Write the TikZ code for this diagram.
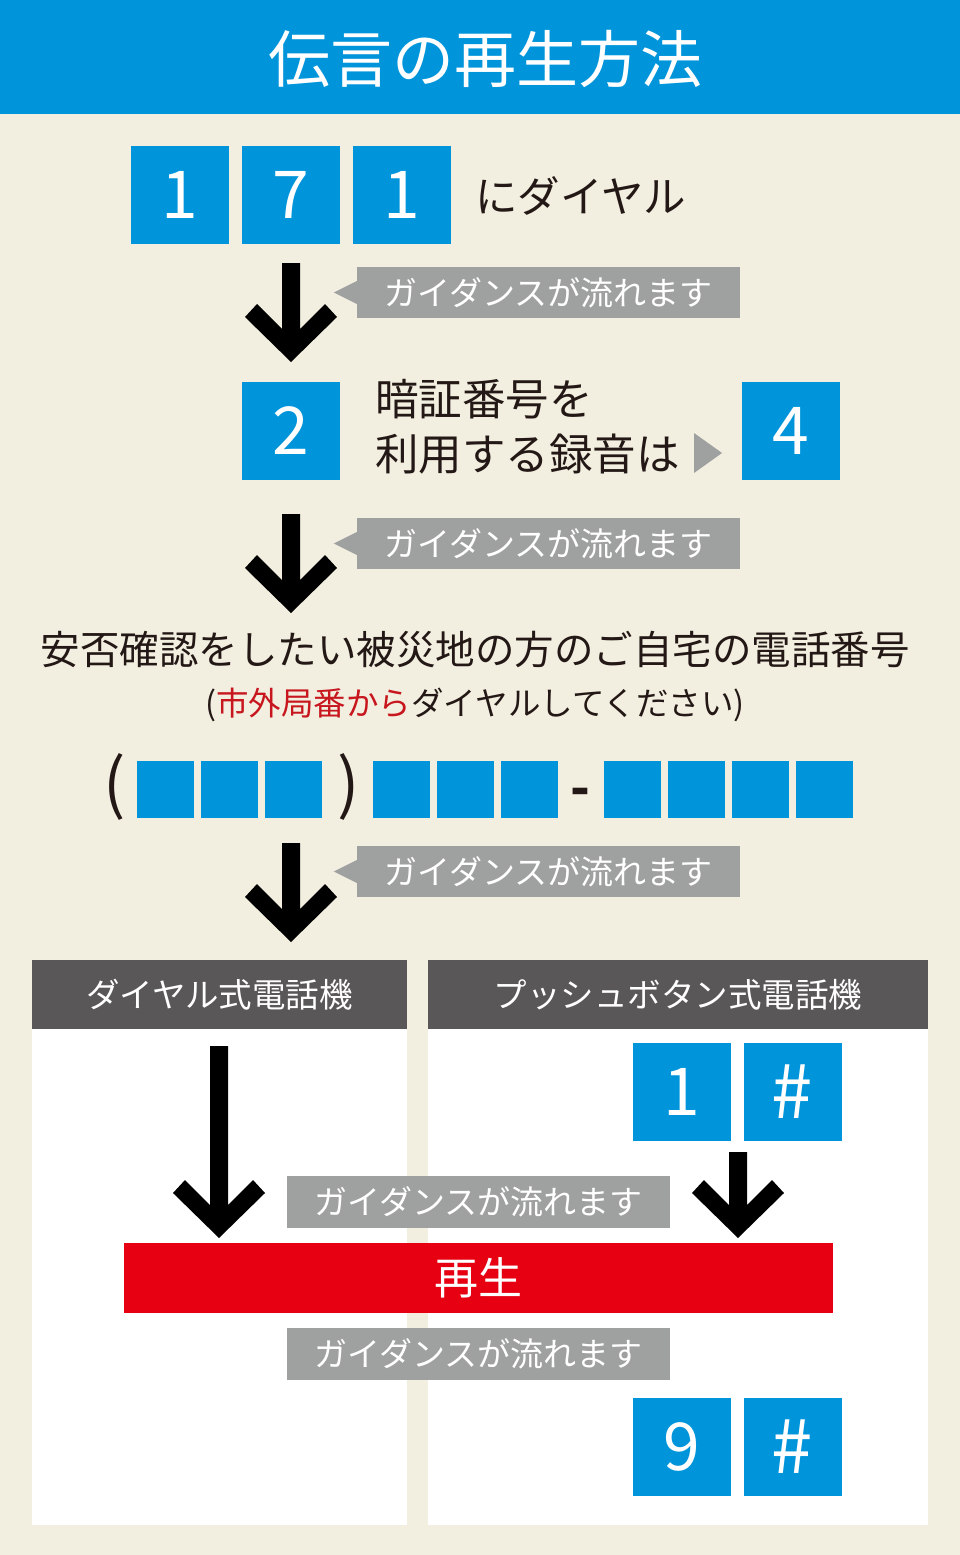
\documentclass[tikz,border=0pt]{standalone}
\usepackage{fontspec}
\setmainfont{Noto Sans CJK JP}
\definecolor{bgbeige}{RGB}{242,239,224}
\definecolor{bluebox}{RGB}{0,149,219}
\definecolor{guidegray}{RGB}{159,160,160}
\definecolor{darkhead}{RGB}{89,87,87}
\definecolor{redbar}{RGB}{230,0,18}
\definecolor{redtext}{RGB}{200,22,30}
\definecolor{inkblack}{RGB}{35,24,21}
\newcommand\fsz[1]{\fontsize{#1}{#1}\selectfont}
\newcommand\bigdownarrow[3]{%
  \fill[black] (#1-9,#2) -- (#1+9,#2) -- (#1+9,#3-33) -- (#1+34,#3-58) -- (#1+46,#3-45) -- (#1,#3)
    -- (#1-46,#3-45) -- (#1-34,#3-58) -- (#1-9,#3-33) -- cycle;}
\tikzset{
  numbox/.style={fill=bluebox, text=white, minimum width=98pt, minimum height=98pt, inner sep=0pt, font=\fsz{66}},
  hashbox/.style={numbox, font=\fsz{74}},
  smallbox/.style={fill=bluebox, minimum width=57pt, minimum height=57pt, inner sep=0pt},
  guide/.style={fill=guidegray, text=white, minimum width=383pt, minimum height=51pt, inner sep=0pt, font=\fsz{33}},
  plain/.style={inner sep=0pt, text=inkblack},
  panel/.style={fill=white},
  panelhead/.style={fill=darkhead, text=white, inner sep=0pt, font=\fsz{33.5}},
}
\begin{document}
\begin{tikzpicture}[x=1pt,y=-1pt]
\fill[bgbeige] (0,0) rectangle (960,1555);
\useasboundingbox (0,0) rectangle (960,1555);
% header
\fill[bluebox] (0,0) rectangle (960,114);
\node[inner sep=0pt, text=white, font=\fsz{62}] (title) at (485,59) {伝言の再生方法};
% 171
\node[numbox] (d1) at (180,195) {1};
\node[numbox] (d7) at (291,195) {7};
\node[numbox] (d1b) at (402,195) {1};
\node[plain, anchor=west, font=\fsz{42.5}] (dial) at (475,196) {にダイヤル};
% arrow 1 + guide 1
\bigdownarrow{291}{263}{362}
\node[guide] (g1) at (548.5,292.5) {ガイダンスが流れます};
\fill[guidegray] (g1.west) ++(0,-11.5) -- ++(-23,11.5) -- ++(23,11.5) -- cycle;
% step 2
\node[numbox] (d2) at (291,430.5) {2};
\node[numbox] (d4) at (791,430.5) {4};
\node[plain, anchor=west, font=\fsz{43.5}] (t2a) at (375,399) {暗証番号を};
\node[plain, anchor=west, font=\fsz{43.5}] (t2b) at (375,454) {利用する録音は};
\fill[guidegray] (694,433) -- (722,453) -- (694,473) -- cycle;
% arrow 2 + guide 2
\bigdownarrow{291}{514}{613}
\node[guide] (g2) at (548.5,543.5) {ガイダンスが流れます};
\fill[guidegray] (g2.west) ++(0,-11.5) -- ++(-23,11.5) -- ++(23,11.5) -- cycle;
% phone number text
\node[plain, font=\fsz{39.5}] (t3) at (475,650) {安否確認をしたい被災地の方のご自宅の電話番号};
\node[plain, font=\fsz{32.5}] (t4) at (475,705) {(\textcolor{redtext}{市外局番から}ダイヤルしてください)};
% number boxes
\node[plain, font=\fsz{66}] (lp) at (115,787) {(};
\node[smallbox] (a1) at (165.5,789.5) {};
\node[smallbox] (a2) at (229.5,789.5) {};
\node[smallbox] (a3) at (293.5,789.5) {};
\node[plain, font=\fsz{66}] (rp) at (349,787) {)};
\node[smallbox] (b1) at (401.5,789.5) {};
\node[smallbox] (b2) at (465.5,789.5) {};
\node[smallbox] (b3) at (529.5,789.5) {};
\node[plain, font=\bfseries\fsz{52}] (hy) at (580.5,797) {-};
\node[smallbox] (c1) at (632.5,789.5) {};
\node[smallbox] (c2) at (696.5,789.5) {};
\node[smallbox] (c3) at (760.5,789.5) {};
\node[smallbox] (c4) at (824.5,789.5) {};
% arrow 3 + guide 3
\bigdownarrow{291}{843}{942}
\node[guide] (g3) at (548.5,871.5) {ガイダンスが流れます};
\fill[guidegray] (g3.west) ++(0,-11.5) -- ++(-23,11.5) -- ++(23,11.5) -- cycle;
% panels
\fill[panel] (32,960) rectangle (407,1525);
\fill[panel] (428,960) rectangle (928,1525);
\node[panelhead, minimum width=375pt, minimum height=69pt] (h1) at (219.5,994.5) {ダイヤル式電話機};
\node[panelhead, minimum width=500pt, minimum height=69pt] (h2) at (678,994.5) {プッシュボタン式電話機};
% panel contents
\bigdownarrow{219}{1046}{1238}
\node[numbox] (p1) at (681.5,1091.5) {1};
\node[hashbox] (ph1) at (792.5,1091.5) {\#};
\bigdownarrow{738}{1152}{1238}
\node[guide, minimum height=52pt] (g4) at (478.5,1202) {ガイダンスが流れます};
\node[fill=redbar, text=white, minimum width=709pt, minimum height=70pt, inner sep=0pt, font=\fsz{44}] (play) at (478.5,1278) {再生};
\node[guide, minimum height=52pt] (g5) at (478.5,1354) {ガイダンスが流れます};
\node[numbox] (p9) at (681.5,1447) {9};
\node[hashbox] (ph2) at (792.5,1447) {\#};
\end{tikzpicture}
\end{document}
